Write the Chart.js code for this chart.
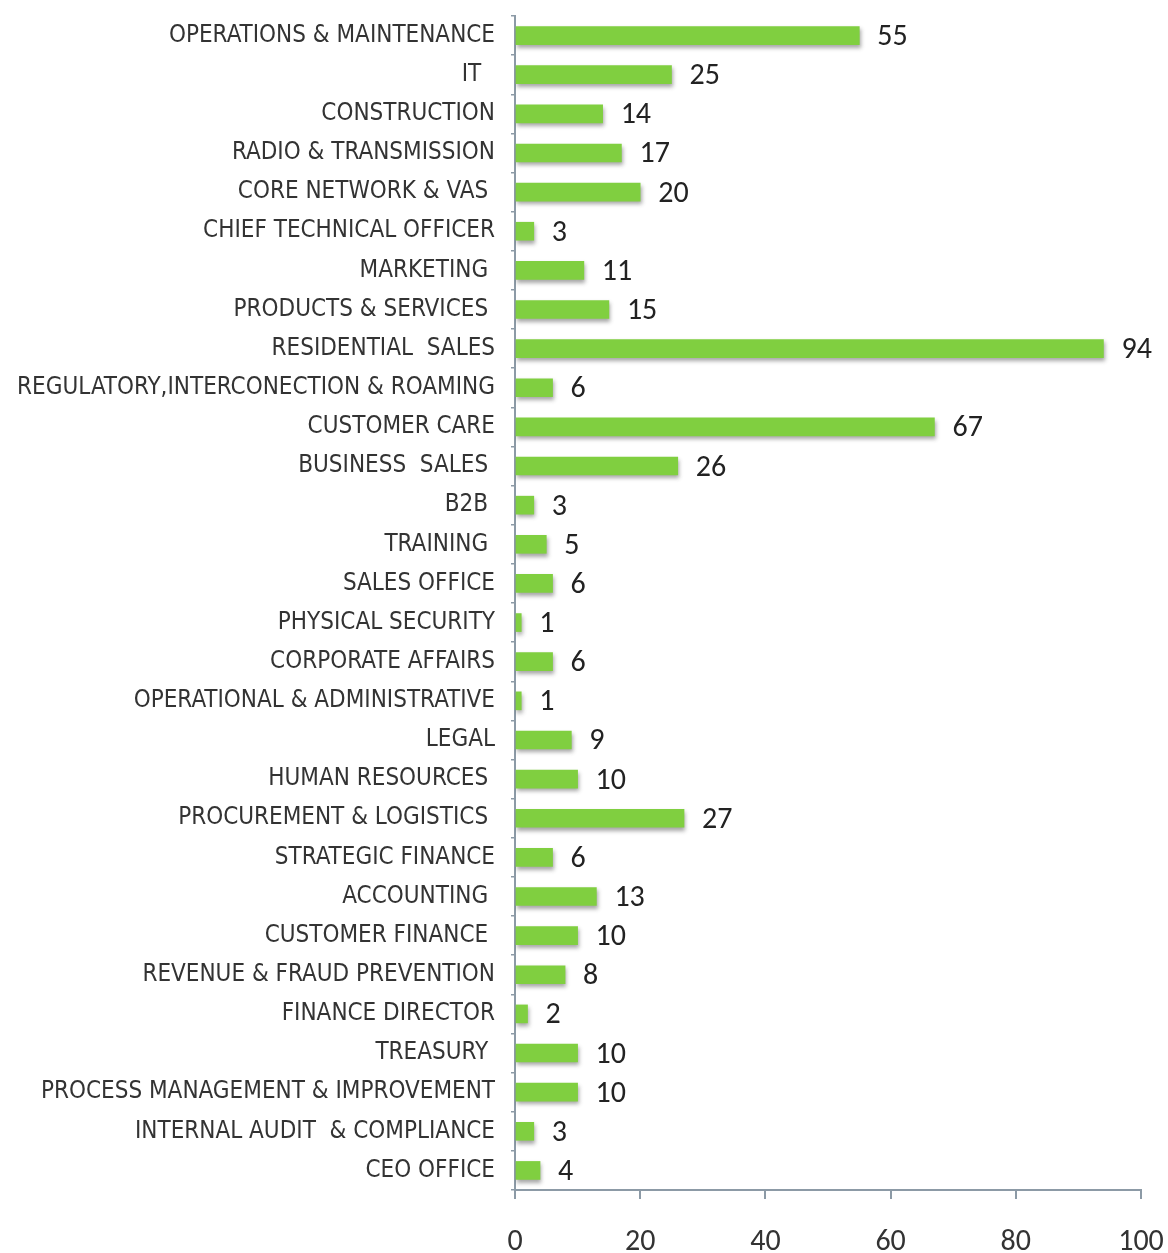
<!DOCTYPE html>
<html>
<head>
<meta charset="utf-8">
<script src="https://cdn.jsdelivr.net/npm/chart.js@4/dist/chart.umd.min.js"></script>
<style>
  html,body{margin:0;padding:0;background:#fff;}
  #wrap{width:1168px;height:1253px;position:relative;}
</style>
</head>
<body>
<div id="wrap"><canvas id="c" width="1168" height="1253"></canvas></div>
<script>
const categories = [
  "OPERATIONS & MAINTENANCE", "IT  ", "CONSTRUCTION", "RADIO & TRANSMISSION", "CORE NETWORK & VAS ",
  "CHIEF TECHNICAL OFFICER", "MARKETING ", "PRODUCTS & SERVICES ", "RESIDENTIAL  SALES",
  "REGULATORY,INTERCONECTION & ROAMING", "CUSTOMER CARE", "BUSINESS  SALES ", "B2B ", "TRAINING ",
  "SALES OFFICE", "PHYSICAL SECURITY", "CORPORATE AFFAIRS", "OPERATIONAL & ADMINISTRATIVE", "LEGAL",
  "HUMAN RESOURCES ", "PROCUREMENT & LOGISTICS ", "STRATEGIC FINANCE", "ACCOUNTING ",
  "CUSTOMER FINANCE ", "REVENUE & FRAUD PREVENTION", "FINANCE DIRECTOR", "TREASURY ",
  "PROCESS MANAGEMENT & IMPROVEMENT", "INTERNAL AUDIT  & COMPLIANCE", "CEO OFFICE"
];
const headcount = [55, 25, 14, 17, 20, 3, 11, 15, 94, 6, 67, 26, 3, 5, 6, 1, 6, 1, 9, 10, 27, 6, 13, 10, 8, 2, 10, 10, 3, 4];
const xTicks = [0, 20, 40, 60, 80, 100];

const valueFont = "30px Carlito, Lato, 'Open Sans', sans-serif";
const axisColor = "#8c9aa6";

const shadowPlugin = {
  id: 'barShadow',
  beforeDatasetDraw(chart) {
    const ctx = chart.ctx;
    ctx.save();
    ctx.shadowColor = 'rgba(60,60,60,0.45)';
    ctx.shadowBlur = 4;
    ctx.shadowOffsetX = 1;
    ctx.shadowOffsetY = 3;
  },
  afterDatasetDraw(chart) {
    chart.ctx.restore();
  }
};

const valueLabels = {
  id: 'valueLabels',
  afterDatasetsDraw(chart) {
    const ctx = chart.ctx;
    const meta = chart.getDatasetMeta(0);
    ctx.save();
    ctx.font = valueFont;
    ctx.fillStyle = '#222';
    ctx.textAlign = 'left';
    ctx.textBaseline = 'middle';
    meta.data.forEach((bar, i) => {
      ctx.fillText(String(chart.data.datasets[0].data[i]), bar.x + 18, bar.y + 2);
    });
    ctx.restore();
  }
};

new Chart(document.getElementById('c'), {
  type: 'bar',
  data: {
    labels: categories,
    datasets: [{
      data: headcount,
      backgroundColor: '#80cf40',
      borderWidth: 0,
      barThickness: 18
    }]
  },
  options: {
    indexAxis: 'y',
    responsive: false,
    animation: false,
    layout: { padding: { top: 16, right: 27, bottom: 0, left: 0 } },
    plugins: { legend: { display: false }, tooltip: { enabled: false } },
    scales: {
      x: {
        min: 0, max: 100,
        afterBuildTicks(scale) { scale.ticks = xTicks.map(v => ({ value: v })); },
        afterFit(scale) { scale.height = 63; scale.paddingLeft = 0; scale.paddingRight = 0; },
        border: { display: true, color: axisColor, width: 2 },
        grid: { drawOnChartArea: false, drawTicks: true, tickLength: 9, color: axisColor, lineWidth: 2 },
        ticks: { font: { family: "Carlito, Lato, 'Open Sans', sans-serif", size: 30 }, color: '#333', padding: 25, maxRotation: 0 }
      },
      y: {
        afterFit(scale) { scale.width = 515; scale.paddingTop = 0; scale.paddingBottom = 0; },
        border: { display: true, color: axisColor, width: 2 },
        grid: { drawOnChartArea: false, drawTicks: true, tickLength: 4, color: axisColor, lineWidth: 1.5, offset: true },
        ticks: { font: { family: "'DejaVu Sans Condensed', 'DejaVu Sans', sans-serif", size: 24 }, color: '#333', padding: 16, autoSkip: false }
      }
    }
  },
  plugins: [shadowPlugin, valueLabels]
});
</script>
</body>
</html>
